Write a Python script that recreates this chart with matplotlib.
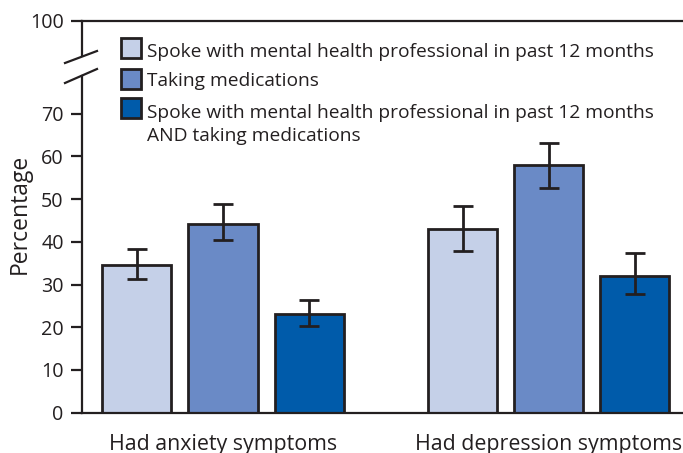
import matplotlib
matplotlib.use("Agg")
import matplotlib.pyplot as plt
from matplotlib.patches import Rectangle
from matplotlib.lines import Line2D
import numpy as np

plt.rcParams['font.family'] = ['Open Sans', 'DejaVu Sans']

# Data
groups = ["Had anxiety symptoms", "Had depression symptoms"]
series = [
    "Spoke with mental health professional in past 12 months",
    "Taking medications",
    "Spoke with mental health professional in past 12 months\nAND taking medications",
]
values = {
    "anxiety":    [34.5, 44.2, 23.2],
    "depression": [42.9, 57.9, 31.9],
}
upper = {
    "anxiety":    [38.3, 48.8, 26.4],
    "depression": [48.3, 63.2, 37.3],
}
lower = {
    "anxiety":    [31.2, 40.4, 20.2],
    "depression": [37.8, 52.7, 27.7],
}
yticks_low = [0, 10, 20, 30, 40, 50, 60, 70]
ytick_top = [100]

colors = ["#C5D0E8", "#6A8AC6", "#005BAA"]
ink = "#231F20"

W, H = 683, 453
fig = plt.figure(figsize=(W / 100, H / 100), dpi=100)

def fx(px):
    return px / W

def fy(py):
    return 1 - py / H

left_px, right_px = 81.7, 683
zero_px, low_top_px = 412.7, 76
top_top_px, top_bot_px = 20.7, 55
ppu = 4.271  # pixels per percentage point

ax = fig.add_axes([fx(left_px), fy(zero_px), fx(right_px - left_px),
                   (zero_px - low_top_px) / H])
axt = fig.add_axes([fx(left_px), fy(top_bot_px), fx(right_px - left_px),
                    (top_bot_px - top_top_px) / H], sharex=ax)

x = np.arange(len(groups))
step = 0.264
width = 0.2118
keys = ["anxiety", "depression"]
for i in range(3):
    vals = np.array([values[k][i] for k in keys])
    up = np.array([upper[k][i] for k in keys])
    lo = np.array([lower[k][i] for k in keys])
    xpos = x + (i - 1) * step
    ax.bar(xpos, vals, width=width, color=colors[i], edgecolor=ink,
           linewidth=2, zorder=2)
    ax.errorbar(xpos, vals, yerr=[vals - lo, up - vals], fmt="none",
                ecolor=ink, elinewidth=2, capsize=7.2, capthick=2, zorder=3)

ax.set_xlim(-(223 - left_px) / 325.8, (683 - 223) / 325.8)
ax.set_ylim(0, (zero_px - low_top_px) / ppu)
axt.set_ylim(100 - (top_bot_px - top_top_px) / ppu, 100)

for a in (ax, axt):
    for s in a.spines.values():
        s.set_color(ink)
        s.set_linewidth(1.6)
    a.spines["right"].set_visible(False)
    a.tick_params(axis="y", direction="out", length=8, width=1.6, color=ink,
                  labelsize=14.2, labelcolor=ink, pad=5)
    a.patch.set_alpha(0)

ax.spines["top"].set_visible(False)
axt.spines["bottom"].set_visible(False)

ax.set_yticks(yticks_low)
axt.set_yticks(ytick_top)
ax.set_xticks(x)
ax.set_xticklabels(groups, fontsize=15.4, color=ink)
ax.tick_params(axis="x", length=0, pad=15.5)
axt.tick_params(axis="x", bottom=False, labelbottom=False)

# Axis break marks
for (x0, y0, x1, y1) in [(65, 63, 97, 51), (65, 83, 97, 69)]:
    fig.add_artist(Line2D([fx(x0), fx(x1)], [fy(y0), fy(y1)],
                          color=ink, lw=1.6, transform=fig.transFigure))

fig.text(fx(20), fy(214), "Percentage", rotation=90, ha="center",
         va="center", fontsize=16.5, color=ink)

# Legend
sq = 20
sq_top = [38.3, 69.3, 98.3]
baselines = [56.7, 86.0, 118.5]
line_gap = 23
for i, lab in enumerate(series):
    fig.add_artist(Rectangle((fx(120.5), fy(sq_top[i] + sq)), sq / W, sq / H,
                             facecolor=colors[i], edgecolor=ink, lw=2,
                             transform=fig.transFigure))
    for j, line in enumerate(lab.split("\n")):
        fig.text(fx(147), fy(baselines[i] + j * line_gap), line, ha="left",
                 va="baseline", fontsize=13.8, color=ink)

fig.savefig("out.png", dpi=100)
